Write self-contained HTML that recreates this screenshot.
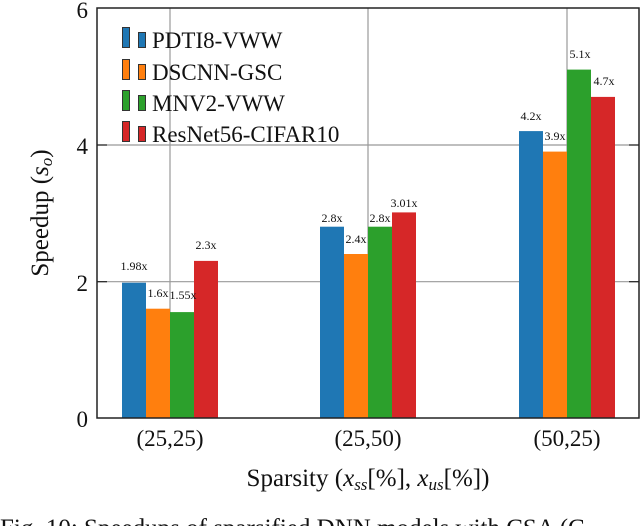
<!DOCTYPE html>
<html><head><style>
body{margin:0;background:#fff}
svg, svg text{font-family:"Liberation Serif","Times New Roman",serif}
</style></head><body>
<svg width="640" height="526" viewBox="0 0 640 526" xmlns="http://www.w3.org/2000/svg" font-family="Liberation Serif, serif">
<g stroke="#999" stroke-width="1.2">
<line x1="97" y1="281.7" x2="639" y2="281.7"/>
<line x1="97" y1="145" x2="639" y2="145"/>
<line x1="170" y1="8" x2="170" y2="418"/>
<line x1="368" y1="8" x2="368" y2="418"/>
<line x1="567" y1="8" x2="567" y2="418"/>
</g>
<g>
<rect x="122" y="282.7" width="24" height="135.3" fill="#1f77b4"/>
<rect x="146" y="308.7" width="24" height="109.3" fill="#ff7f0e"/>
<rect x="170" y="312.1" width="24" height="105.9" fill="#2ca02c"/>
<rect x="194" y="260.9" width="24" height="157.1" fill="#d62728"/>
<rect x="320" y="226.7" width="24" height="191.3" fill="#1f77b4"/>
<rect x="344" y="254" width="24" height="164" fill="#ff7f0e"/>
<rect x="368" y="226.7" width="24" height="191.3" fill="#2ca02c"/>
<rect x="392" y="212.4" width="24" height="205.6" fill="#d62728"/>
<rect x="519" y="131.1" width="24" height="286.9" fill="#1f77b4"/>
<rect x="543" y="151.6" width="24" height="266.4" fill="#ff7f0e"/>
<rect x="567" y="69.6" width="24" height="348.4" fill="#2ca02c"/>
<rect x="591" y="96.9" width="24" height="321.1" fill="#d62728"/>
</g>
<rect x="97" y="8" width="542" height="410" fill="none" stroke="#222" stroke-width="1.5"/>
<g stroke="#222" stroke-width="1.2">
<line x1="97" y1="281.7" x2="107" y2="281.7"/><line x1="97" y1="145" x2="107" y2="145"/>
<line x1="639" y1="281.7" x2="629" y2="281.7"/><line x1="639" y1="145" x2="629" y2="145"/>
</g>
<g font-size="12" fill="#111" text-anchor="middle">
<text x="134" y="270">1.98x</text>
<text x="158" y="297">1.6x</text>
<text x="183" y="299">1.55x</text>
<text x="206" y="249">2.3x</text>
<text x="332" y="222">2.8x</text>
<text x="356" y="243">2.4x</text>
<text x="380" y="222">2.8x</text>
<text x="404" y="207">3.01x</text>
<text x="531" y="120">4.2x</text>
<text x="555" y="140">3.9x</text>
<text x="580" y="58">5.1x</text>
<text x="604" y="85">4.7x</text>
</g>
<g font-size="23" fill="#111" text-anchor="end">
<text x="88" y="18">6</text>
<text x="88" y="154">4</text>
<text x="88" y="291">2</text>
<text x="88" y="427">0</text>
</g>
<g font-size="23" fill="#111" text-anchor="middle">
<text x="170" y="446">(25,25)</text>
<text x="368" y="446">(25,50)</text>
<text x="567" y="446">(50,25)</text>
</g>
<g font-size="25" fill="#111" text-anchor="middle">
<text x="368" y="486">Sparsity (<tspan font-style="italic">x</tspan><tspan font-style="italic" font-size="17" dy="4">ss</tspan><tspan dy="-4">[%], </tspan><tspan font-style="italic">x</tspan><tspan font-style="italic" font-size="17" dy="4">us</tspan><tspan dy="-4">[%])</tspan></text>
<text transform="translate(48,213) rotate(-90)">Speedup (<tspan font-style="italic">s</tspan><tspan font-style="italic" font-size="17" dy="4">o</tspan><tspan dy="-4">)</tspan></text>
</g>
<g stroke="#333" stroke-width="1">
<rect x="122.5" y="27.5" width="7" height="20" fill="#1f77b4"/><rect x="138.5" y="32.5" width="7" height="15" fill="#1f77b4"/>
<rect x="122.5" y="59.5" width="7" height="20" fill="#ff7f0e"/><rect x="138.5" y="64.5" width="7" height="15" fill="#ff7f0e"/>
<rect x="122.5" y="90.5" width="7" height="20" fill="#2ca02c"/><rect x="138.5" y="95.5" width="7" height="15" fill="#2ca02c"/>
<rect x="122.5" y="121.5" width="7" height="20" fill="#d62728"/><rect x="138.5" y="126.5" width="7" height="15" fill="#d62728"/>
</g>
<g font-size="23" fill="#111">
<text x="152" y="48">PDTI8-VWW</text>
<text x="152" y="80">DSCNN-GSC</text>
<text x="152" y="111">MNV2-VWW</text>
<text x="152" y="142">ResNet56-CIFAR10</text>
</g>
<text x="0" y="536" font-size="25" fill="#111">Fig. 10: Speedups of sparsified DNN models with CSA (C</text>
</svg>
</body></html>
